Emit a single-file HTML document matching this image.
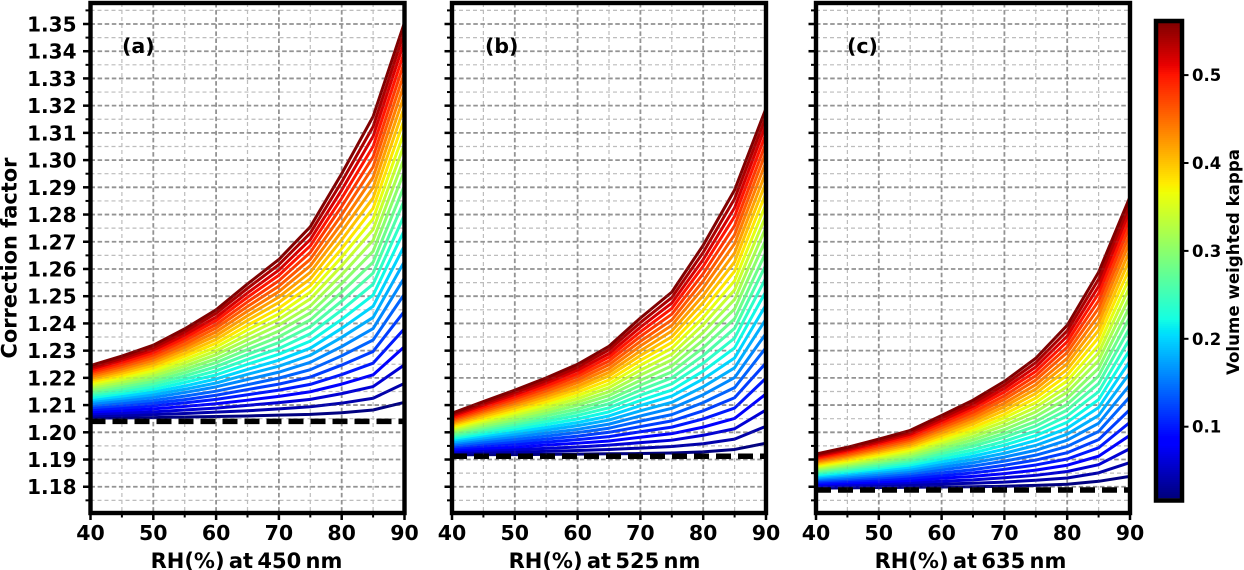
<!DOCTYPE html>
<html lang="en">
<head>
<meta charset="utf-8">
<title>Correction factor vs RH</title>
<style>
html,body{margin:0;padding:0;background:#fff;}
svg{display:block;}
text{font-family:"DejaVu Sans","Liberation Sans",sans-serif;font-weight:bold;fill:#000;}
</style>
</head>
<body>
<svg id="chart" xmlns="http://www.w3.org/2000/svg" width="1244" height="570" viewBox="0 0 1244 570">
  <rect x="0" y="0" width="1244" height="570" fill="#fff"/>
  <g id="panels"></g>
  <text transform="translate(16.5,258) rotate(-90)" text-anchor="middle" font-size="21" textLength="201" lengthAdjust="spacingAndGlyphs">Correction factor</text>
  <text x="246.5" y="568" text-anchor="middle" font-size="21" word-spacing="-3">RH(%) at 450 nm</text>
  <text x="604.5" y="568" text-anchor="middle" font-size="21" word-spacing="-3">RH(%) at 525 nm</text>
  <text x="970.5" y="568" text-anchor="middle" font-size="21" word-spacing="-3">RH(%) at 635 nm</text>
  <text x="122" y="53" font-size="20.5">(a)</text>
  <text x="485" y="53" font-size="20.5">(b)</text>
  <text x="847" y="53" font-size="20.5">(c)</text>
  <g id="colorbar"></g>
  <text transform="translate(1239,262) rotate(-90)" text-anchor="middle" font-size="17" textLength="226" lengthAdjust="spacingAndGlyphs">Volume weighted kappa</text>
</svg>
<script>
const rhValues = [40,45,50,55,60,65,70,75,80,85,90];
const kappaValues = [0.02,0.04,0.06,0.08,0.10,0.12,0.14,0.16,0.18,0.20,0.22,0.24,0.26,0.28,0.30,0.32,0.34,0.36,0.38,0.40,0.42,0.44,0.46,0.48,0.50,0.52,0.54,0.56];
const yMajorTicks = [1.18,1.19,1.20,1.21,1.22,1.23,1.24,1.25,1.26,1.27,1.28,1.29,1.30,1.31,1.32,1.33,1.34,1.35];
const yMinorTicks = [1.175,1.185,1.195,1.205,1.215,1.225,1.235,1.245,1.255,1.265,1.275,1.285,1.295,1.305,1.315,1.325,1.335,1.345,1.355];
const xMajorTicks = [40,50,60,70,80,90];
const xMinorTicks = [45,55,65,75,85];
const colorbarTicks = [0.1,0.2,0.3,0.4,0.5];
const referenceA = 1.204;
const referenceB = 1.1912;
const referenceC = 1.1788;

// Each row: correction factor at one RH (rhValues order), one value per kappa (kappaValues order)
const factorsA = [
[1.2052,1.2060,1.2067,1.2075,1.2083,1.2090,1.2098,1.2105,1.2113,1.2120,1.2127,1.2135,1.2142,1.2149,1.2156,1.2164,1.2171,1.2178,1.2185,1.2192,1.2198,1.2205,1.2212,1.2219,1.2225,1.2232,1.2238,1.2245],
[1.2053,1.2062,1.2071,1.2080,1.2089,1.2098,1.2107,1.2116,1.2125,1.2133,1.2142,1.2150,1.2159,1.2167,1.2176,1.2184,1.2193,1.2201,1.2209,1.2217,1.2225,1.2233,1.2241,1.2249,1.2257,1.2265,1.2272,1.2280],
[1.2054,1.2065,1.2075,1.2086,1.2097,1.2107,1.2117,1.2128,1.2138,1.2148,1.2158,1.2168,1.2178,1.2188,1.2198,1.2208,1.2218,1.2227,1.2237,1.2246,1.2256,1.2265,1.2274,1.2284,1.2293,1.2302,1.2311,1.2320],
[1.2056,1.2069,1.2082,1.2095,1.2108,1.2120,1.2133,1.2146,1.2158,1.2170,1.2183,1.2195,1.2207,1.2219,1.2231,1.2243,1.2255,1.2267,1.2279,1.2290,1.2302,1.2313,1.2324,1.2336,1.2347,1.2358,1.2369,1.2380],
[1.2058,1.2074,1.2089,1.2105,1.2121,1.2136,1.2151,1.2167,1.2181,1.2196,1.2211,1.2226,1.2241,1.2256,1.2270,1.2285,1.2299,1.2313,1.2327,1.2341,1.2355,1.2369,1.2383,1.2396,1.2410,1.2423,1.2437,1.2450],
[1.2060,1.2079,1.2099,1.2118,1.2138,1.2157,1.2175,1.2194,1.2213,1.2231,1.2250,1.2268,1.2286,1.2304,1.2322,1.2340,1.2358,1.2376,1.2393,1.2411,1.2428,1.2445,1.2462,1.2479,1.2496,1.2512,1.2529,1.2545],
[1.2063,1.2086,1.2109,1.2132,1.2155,1.2177,1.2199,1.2221,1.2243,1.2265,1.2287,1.2308,1.2330,1.2351,1.2372,1.2394,1.2415,1.2435,1.2456,1.2477,1.2497,1.2517,1.2537,1.2557,1.2577,1.2596,1.2616,1.2635],
[1.2066,1.2094,1.2121,1.2149,1.2176,1.2203,1.2230,1.2257,1.2283,1.2309,1.2335,1.2362,1.2388,1.2413,1.2439,1.2464,1.2490,1.2515,1.2539,1.2564,1.2588,1.2612,1.2636,1.2661,1.2685,1.2708,1.2732,1.2755],
[1.2072,1.2107,1.2142,1.2177,1.2212,1.2247,1.2281,1.2315,1.2349,1.2382,1.2415,1.2449,1.2482,1.2515,1.2547,1.2579,1.2612,1.2644,1.2675,1.2707,1.2738,1.2768,1.2799,1.2830,1.2860,1.2890,1.2920,1.2950],
[1.2082,1.2125,1.2168,1.2211,1.2254,1.2297,1.2339,1.2381,1.2422,1.2463,1.2504,1.2544,1.2585,1.2625,1.2665,1.2705,1.2745,1.2784,1.2823,1.2861,1.2899,1.2937,1.2975,1.3012,1.3050,1.3087,1.3123,1.3160],
[1.2110,1.2180,1.2248,1.2315,1.2381,1.2445,1.2508,1.2568,1.2628,1.2686,1.2743,1.2799,1.2854,1.2907,1.2960,1.3010,1.3059,1.3106,1.3152,1.3197,1.3240,1.3282,1.3322,1.3361,1.3399,1.3437,1.3472,1.3505]
];
const factorsB = [
[1.1917,1.1923,1.1929,1.1935,1.1941,1.1947,1.1953,1.1959,1.1965,1.1971,1.1977,1.1983,1.1988,1.1994,1.2000,1.2005,1.2011,1.2017,1.2022,1.2028,1.2033,1.2038,1.2044,1.2049,1.2054,1.2060,1.2065,1.2070],
[1.1918,1.1926,1.1934,1.1941,1.1949,1.1957,1.1964,1.1972,1.1979,1.1987,1.1994,1.2002,1.2009,1.2016,1.2023,1.2031,1.2038,1.2045,1.2052,1.2059,1.2066,1.2073,1.2079,1.2086,1.2093,1.2100,1.2106,1.2113],
[1.1918,1.1927,1.1937,1.1946,1.1956,1.1965,1.1974,1.1984,1.1993,1.2002,1.2011,1.2020,1.2029,1.2037,1.2046,1.2055,1.2064,1.2072,1.2081,1.2089,1.2098,1.2106,1.2114,1.2123,1.2131,1.2139,1.2147,1.2155],
[1.1919,1.1930,1.1941,1.1953,1.1964,1.1975,1.1986,1.1997,1.2008,1.2018,1.2029,1.2040,1.2050,1.2061,1.2071,1.2081,1.2092,1.2102,1.2112,1.2122,1.2132,1.2142,1.2152,1.2162,1.2171,1.2181,1.2190,1.2200],
[1.1920,1.1933,1.1946,1.1960,1.1973,1.1986,1.1999,1.2011,1.2024,1.2036,1.2049,1.2062,1.2074,1.2086,1.2099,1.2111,1.2123,1.2135,1.2147,1.2159,1.2170,1.2182,1.2193,1.2205,1.2216,1.2228,1.2239,1.2250],
[1.1921,1.1937,1.1953,1.1968,1.1984,1.2000,1.2015,1.2030,1.2045,1.2060,1.2075,1.2090,1.2105,1.2120,1.2135,1.2149,1.2164,1.2178,1.2192,1.2207,1.2220,1.2234,1.2248,1.2262,1.2276,1.2289,1.2303,1.2316],
[1.1922,1.1942,1.1962,1.1982,1.2002,1.2021,1.2041,1.2060,1.2079,1.2098,1.2117,1.2136,1.2155,1.2173,1.2191,1.2210,1.2228,1.2246,1.2264,1.2282,1.2299,1.2317,1.2334,1.2352,1.2369,1.2386,1.2403,1.2420],
[1.1924,1.1948,1.1971,1.1995,1.2019,1.2042,1.2065,1.2088,1.2110,1.2133,1.2155,1.2178,1.2200,1.2222,1.2244,1.2266,1.2287,1.2309,1.2330,1.2351,1.2372,1.2393,1.2413,1.2434,1.2455,1.2475,1.2495,1.2515],
[1.1928,1.1958,1.1989,1.2019,1.2049,1.2079,1.2109,1.2138,1.2167,1.2196,1.2225,1.2254,1.2282,1.2311,1.2339,1.2367,1.2395,1.2422,1.2449,1.2477,1.2503,1.2530,1.2556,1.2583,1.2610,1.2635,1.2661,1.2687],
[1.1937,1.1975,1.2013,1.2051,1.2089,1.2127,1.2164,1.2201,1.2237,1.2273,1.2310,1.2346,1.2382,1.2417,1.2453,1.2488,1.2523,1.2557,1.2592,1.2626,1.2659,1.2693,1.2726,1.2759,1.2793,1.2825,1.2858,1.2890],
[1.1960,1.2022,1.2082,1.2141,1.2199,1.2255,1.2311,1.2363,1.2416,1.2468,1.2518,1.2568,1.2616,1.2662,1.2709,1.2753,1.2796,1.2838,1.2879,1.2918,1.2956,1.2993,1.3029,1.3063,1.3097,1.3130,1.3160,1.3190]
];
const factorsC = [
[1.1795,1.1800,1.1805,1.1810,1.1815,1.1820,1.1825,1.1830,1.1834,1.1839,1.1844,1.1849,1.1853,1.1858,1.1863,1.1867,1.1872,1.1876,1.1881,1.1885,1.1890,1.1894,1.1899,1.1903,1.1907,1.1912,1.1916,1.1920],
[1.1796,1.1802,1.1808,1.1814,1.1820,1.1826,1.1831,1.1837,1.1843,1.1849,1.1854,1.1860,1.1866,1.1871,1.1877,1.1882,1.1888,1.1893,1.1898,1.1904,1.1909,1.1914,1.1919,1.1925,1.1930,1.1935,1.1940,1.1945],
[1.1797,1.1804,1.1811,1.1818,1.1825,1.1832,1.1839,1.1846,1.1853,1.1860,1.1867,1.1873,1.1880,1.1887,1.1893,1.1900,1.1906,1.1913,1.1919,1.1926,1.1932,1.1938,1.1944,1.1951,1.1957,1.1963,1.1969,1.1975],
[1.1798,1.1806,1.1815,1.1823,1.1831,1.1840,1.1848,1.1856,1.1864,1.1872,1.1880,1.1888,1.1896,1.1903,1.1911,1.1919,1.1927,1.1934,1.1942,1.1949,1.1956,1.1964,1.1971,1.1978,1.1986,1.1993,1.2000,1.2007],
[1.1799,1.1810,1.1820,1.1831,1.1841,1.1851,1.1862,1.1872,1.1882,1.1892,1.1902,1.1912,1.1922,1.1932,1.1941,1.1951,1.1961,1.1970,1.1980,1.1989,1.1998,1.2008,1.2017,1.2026,1.2035,1.2044,1.2053,1.2062],
[1.1800,1.1813,1.1825,1.1838,1.1851,1.1863,1.1876,1.1888,1.1900,1.1912,1.1924,1.1936,1.1949,1.1960,1.1972,1.1984,1.1996,1.2007,1.2018,1.2030,1.2041,1.2052,1.2063,1.2074,1.2086,1.2096,1.2107,1.2118],
[1.1802,1.1817,1.1833,1.1848,1.1864,1.1879,1.1894,1.1909,1.1923,1.1938,1.1953,1.1967,1.1982,1.1996,1.2010,1.2025,1.2039,1.2053,1.2066,1.2080,1.2094,1.2107,1.2121,1.2134,1.2148,1.2161,1.2174,1.2187],
[1.1805,1.1824,1.1842,1.1861,1.1880,1.1898,1.1916,1.1934,1.1952,1.1970,1.1988,1.2005,1.2023,1.2040,1.2058,1.2075,1.2092,1.2109,1.2126,1.2143,1.2159,1.2175,1.2192,1.2208,1.2224,1.2240,1.2256,1.2272],
[1.1809,1.1832,1.1856,1.1879,1.1902,1.1925,1.1948,1.1971,1.1993,1.2015,1.2037,1.2060,1.2082,1.2103,1.2125,1.2147,1.2168,1.2189,1.2210,1.2231,1.2252,1.2272,1.2293,1.2313,1.2333,1.2353,1.2373,1.2393],
[1.1820,1.1851,1.1881,1.1912,1.1943,1.1973,1.2003,1.2033,1.2062,1.2091,1.2120,1.2149,1.2179,1.2207,1.2235,1.2264,1.2292,1.2320,1.2348,1.2375,1.2402,1.2429,1.2456,1.2483,1.2510,1.2536,1.2562,1.2588],
[1.1838,1.1889,1.1940,1.1989,1.2037,1.2084,1.2131,1.2175,1.2219,1.2262,1.2304,1.2345,1.2385,1.2424,1.2463,1.2500,1.2536,1.2571,1.2605,1.2638,1.2670,1.2701,1.2730,1.2759,1.2787,1.2815,1.2840,1.2865]
];

const SVGNS = 'http://www.w3.org/2000/svg';
const panelsRoot = document.getElementById('panels');
const colorbarRoot = document.getElementById('colorbar');
const AXIS_TOP = 3, AXIS_BOTTOM = 513, AXIS_WIDTH = 314;

function mk(tag, attrs, parent) {
  const el = document.createElementNS(SVGNS, tag);
  for (const k in attrs) el.setAttribute(k, attrs[k]);
  parent.appendChild(el);
  return el;
}
function yScale(v) { return 24 + (1.35 - v) * 2722; }
function xScale(rh, left) { return left + (rh - 40) * AXIS_WIDTH / 50; }
function lerpStops(t, stops) {
  for (let i = 1; i < stops.length; i++) {
    if (t <= stops[i][0]) {
      const a = stops[i - 1], b = stops[i];
      return a[1] + (b[1] - a[1]) * (t - a[0]) / (b[0] - a[0]);
    }
  }
  return stops[stops.length - 1][1];
}
function jet(t) {
  t = Math.max(0, Math.min(1, t));
  const r = lerpStops(t, [[0,0],[0.35,0],[0.66,1],[0.89,1],[1,0.5]]);
  const g = lerpStops(t, [[0,0],[0.125,0],[0.375,1],[0.64,1],[0.91,0],[1,0]]);
  const b = lerpStops(t, [[0,0.5],[0.11,1],[0.34,1],[0.65,0],[1,0]]);
  return 'rgb(' + Math.round(r * 255) + ',' + Math.round(g * 255) + ',' + Math.round(b * 255) + ')';
}
function kappaColor(k) {
  const lo = kappaValues[0], hi = kappaValues[kappaValues.length - 1];
  return jet((k - lo) / (hi - lo));
}

function drawGrid(parent, left, right, minorStyle, majorStyle) {
  yMinorTicks.forEach(function (v) {
    mk('line', Object.assign({ x1: left, x2: right, y1: yScale(v), y2: yScale(v) }, minorStyle), parent);
  });
  xMinorTicks.forEach(function (v) {
    mk('line', Object.assign({ x1: xScale(v, left), x2: xScale(v, left), y1: AXIS_TOP, y2: AXIS_BOTTOM }, minorStyle), parent);
  });
  yMajorTicks.forEach(function (v) {
    mk('line', Object.assign({ x1: left, x2: right, y1: yScale(v), y2: yScale(v) }, majorStyle), parent);
  });
  xMajorTicks.forEach(function (v) {
    mk('line', Object.assign({ x1: xScale(v, left), x2: xScale(v, left), y1: AXIS_TOP, y2: AXIS_BOTTOM }, majorStyle), parent);
  });
}

function drawPanel(id, left, factors, reference, showLabels) {
  const right = left + AXIS_WIDTH;
  const g = mk('g', {}, panelsRoot);
  
  

  const defs = mk('defs', {}, g);
  const clip = mk('clipPath', { id: 'clip-' + id }, defs);
  mk('rect', { x: left, y: AXIS_TOP, width: AXIS_WIDTH, height: AXIS_BOTTOM - AXIS_TOP }, clip);

  const grid = mk('g', { fill: 'none' }, g);
  
  
  drawGrid(grid, left, right,
    { stroke: '#c6c6c6', 'stroke-width': 1.2, 'stroke-dasharray': '4 3' },
    { stroke: '#969696', 'stroke-width': 1.8, 'stroke-dasharray': '4.5 2.6' });

  const curves = mk('g', { 'clip-path': 'url(#clip-' + id + ')', fill: 'none', 'stroke-width': 3, 'stroke-linejoin': 'round' }, g);
  
  
  kappaValues.forEach(function (k, ki) {
    const pts = rhValues.map(function (rh, ri) {
      return xScale(rh, left).toFixed(2) + ',' + yScale(factors[ri][ki]).toFixed(2);
    }).join(' ');
    const line = mk('polyline', { points: pts, stroke: kappaColor(k) }, curves);
    
    
  });

  const ref = mk('line', { x1: left, x2: right, y1: yScale(reference), y2: yScale(reference), stroke: '#000', 'stroke-width': 5.5, 'stroke-dasharray': '15 7', 'clip-path': 'url(#clip-' + id + ')' }, g);
  
  

  const gridOverlay = mk('g', { fill: 'none', opacity: 0.12 }, g);
  
  
  drawGrid(gridOverlay, left, right,
    { stroke: '#808080', 'stroke-width': 1.2, 'stroke-dasharray': '4 3' },
    { stroke: '#808080', 'stroke-width': 1.8, 'stroke-dasharray': '4.5 2.6' });

  const ticks = mk('g', { stroke: '#000' }, g);
  
  
  yMinorTicks.forEach(function (v) {
    mk('line', { x1: left - 5, x2: left, y1: yScale(v), y2: yScale(v), 'stroke-width': 2 }, ticks);
  });
  yMajorTicks.forEach(function (v) {
    mk('line', { x1: left - 7.5, x2: left, y1: yScale(v), y2: yScale(v), 'stroke-width': 2.5 }, ticks);
  });
  xMinorTicks.forEach(function (v) {
    mk('line', { x1: xScale(v, left), x2: xScale(v, left), y1: AXIS_BOTTOM, y2: AXIS_BOTTOM + 4.5, 'stroke-width': 2 }, ticks);
  });
  xMajorTicks.forEach(function (v) {
    mk('line', { x1: xScale(v, left), x2: xScale(v, left), y1: AXIS_BOTTOM, y2: AXIS_BOTTOM + 7, 'stroke-width': 2.5 }, ticks);
  });

  xMajorTicks.forEach(function (v) {
    const t = mk('text', { x: xScale(v, left), y: 540, 'text-anchor': 'middle', 'font-size': 20.5 }, g);
    t.textContent = String(v);
    
    
  });
  if (showLabels) {
    yMajorTicks.forEach(function (v) {
      const t = mk('text', { x: 76.5, y: yScale(v) + 7.5, 'text-anchor': 'end', 'font-size': 20 }, g);
      t.textContent = v.toFixed(2);
      
      
    });
  }

  const frame = mk('rect', { x: left, y: AXIS_TOP, width: AXIS_WIDTH, height: AXIS_BOTTOM - AXIS_TOP, fill: 'none', stroke: '#000', 'stroke-width': 4.4 }, g);
  
  
}

function cbY(k) { return 426.7 - (k - 0.1) * 879; }

function drawColorbar() {
  const lo = kappaValues[0], hi = kappaValues[kappaValues.length - 1];
  const topY = cbY(hi), botY = cbY(lo);
  const bands = mk('g', {}, colorbarRoot);
  
  
  for (let y = Math.floor(topY); y < botY; y += 2) {
    const t = (botY - (y + 1)) / (botY - topY);
    mk('rect', { x: 1156, y: y, width: 26, height: 2.4, fill: jet(t) }, bands);
  }
  const outline = mk('rect', { x: 1156, y: 21, width: 26, height: 479.5, fill: 'none', stroke: '#000', 'stroke-width': 4.5 }, colorbarRoot);
  
  
  colorbarTicks.forEach(function (k) {
    const tick = mk('line', { x1: 1184, x2: 1188.5, y1: cbY(k), y2: cbY(k), stroke: '#000', 'stroke-width': 2 }, colorbarRoot);
    
    
    const t = mk('text', { x: 1192, y: cbY(k) + 6, 'font-size': 16.5 }, colorbarRoot);
    t.textContent = k.toFixed(1);
    
    
  });
}

drawPanel('a', 90.5, factorsA, referenceA, true);
drawPanel('b', 452, factorsB, referenceB, false);
drawPanel('c', 816, factorsC, referenceC, false);
drawColorbar();
</script>
</body>
</html>
